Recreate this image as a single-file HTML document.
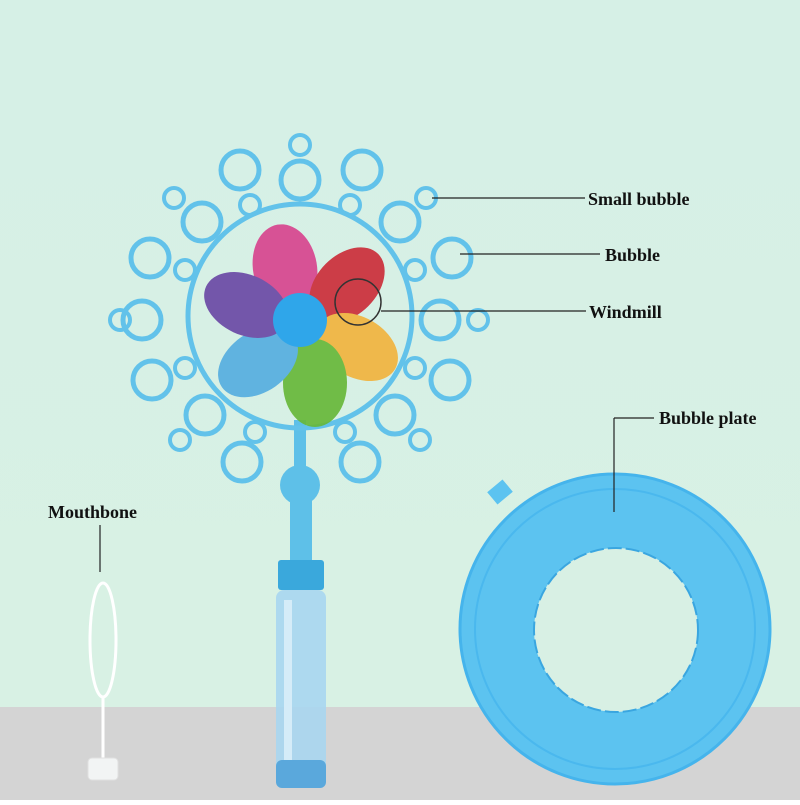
<!DOCTYPE html>
<html><head><style>html,body{margin:0;padding:0}body{width:800px;height:800px;overflow:hidden}
text{font-family:"Liberation Serif",serif;font-weight:bold;font-size:18px;fill:#111}</style></head><body>
<svg width="800" height="800" viewBox="0 0 800 800" xmlns="http://www.w3.org/2000/svg">
<defs><linearGradient id="bg" x1="0" y1="0" x2="0" y2="1"><stop offset="0" stop-color="#d6f0e6"/><stop offset="1" stop-color="#d8f1e4"/></linearGradient></defs>
<rect width="800" height="707" fill="url(#bg)"/>
<rect y="707" width="800" height="93" fill="#d4d4d4"/>
<!-- bubble plate -->
<rect x="490" y="484" width="20" height="16" fill="#5cc3f0" transform="rotate(-40 500 492)"/>
<circle cx="615" cy="629" r="155" fill="#5cc3f0" stroke="#45b4ec" stroke-width="3"/>
<circle cx="615" cy="629" r="140" fill="none" stroke="#4ab8ee" stroke-width="2"/>
<circle cx="616" cy="630" r="82" fill="#d8f0e4" stroke="#3aa6e0" stroke-width="2" stroke-dasharray="14 4"/>
<!-- mouthbone -->
<ellipse cx="103" cy="640" rx="13" ry="57" fill="none" stroke="#fff" stroke-width="3"/>
<line x1="103" y1="697" x2="103" y2="760" stroke="#fff" stroke-width="3"/>
<rect x="88" y="758" width="30" height="22" rx="4" fill="#f2f4f4" stroke="#e0e0e0"/>
<!-- wand handle -->
<rect x="294" y="420" width="12" height="60" fill="#5ec0e8"/>
<circle cx="300" cy="485" r="20" fill="#5ec0e8"/>
<rect x="290" y="500" width="22" height="65" fill="#5ec0e8"/>
<rect x="278" y="560" width="46" height="30" rx="3" fill="#3aa8dc"/>
<rect x="276" y="590" width="50" height="195" rx="8" fill="#a9d6ef" opacity="0.9"/>
<rect x="284" y="600" width="8" height="170" fill="#d5ecf8"/>
<rect x="276" y="760" width="50" height="28" rx="6" fill="#5aa8dc"/>
<!-- rings -->
<g fill="none" stroke="#62c2ea">
<circle cx="300" cy="316" r="112" stroke-width="5"/>
<g stroke-width="5">
<circle cx="300" cy="180" r="19"/><circle cx="362" cy="170" r="19"/><circle cx="240" cy="170" r="19"/>
<circle cx="202" cy="222" r="19"/><circle cx="400" cy="222" r="19"/><circle cx="150" cy="258" r="19"/>
<circle cx="452" cy="258" r="19"/><circle cx="142" cy="320" r="19"/><circle cx="440" cy="320" r="19"/>
<circle cx="152" cy="380" r="19"/><circle cx="450" cy="380" r="19"/><circle cx="205" cy="415" r="19"/>
<circle cx="395" cy="415" r="19"/><circle cx="242" cy="462" r="19"/><circle cx="360" cy="462" r="19"/>
</g>
<g stroke-width="4">
<circle cx="300" cy="145" r="10"/><circle cx="174" cy="198" r="10"/><circle cx="426" cy="198" r="10"/>
<circle cx="250" cy="205" r="10"/><circle cx="350" cy="205" r="10"/><circle cx="185" cy="270" r="10"/>
<circle cx="415" cy="270" r="10"/><circle cx="120" cy="320" r="10"/><circle cx="478" cy="320" r="10"/>
<circle cx="185" cy="368" r="10"/><circle cx="415" cy="368" r="10"/><circle cx="180" cy="440" r="10"/>
<circle cx="420" cy="440" r="10"/><circle cx="255" cy="432" r="10"/><circle cx="345" cy="432" r="10"/>
</g></g>
<!-- windmill -->
<g opacity="0.92">
<ellipse cx="285" cy="268" rx="32" ry="44" fill="#d8458f" transform="rotate(-10 285 268)"/>
<ellipse cx="347" cy="285" rx="30" ry="44" fill="#cc2e3a" transform="rotate(45 347 285)"/>
<ellipse cx="357" cy="347" rx="30" ry="44" fill="#f2b43e" transform="rotate(-60 357 347)"/>
<ellipse cx="315" cy="383" rx="32" ry="44" fill="#68b83a"/>
<ellipse cx="258" cy="362" rx="30" ry="44" fill="#56aee0" transform="rotate(55 258 362)"/>
<ellipse cx="246" cy="305" rx="30" ry="44" fill="#6b4aa6" transform="rotate(-65 246 305)"/>
</g>
<circle cx="300" cy="320" r="27" fill="#2fa6ea"/>
<circle cx="358" cy="302" r="23" fill="none" stroke="#333" stroke-width="1.5"/>
<!-- labels -->
<g stroke="#222" stroke-width="1.2">
<line x1="432" y1="198" x2="585" y2="198"/>
<line x1="460" y1="254" x2="600" y2="254"/>
<line x1="381" y1="311" x2="586" y2="311"/>
<line x1="614" y1="418" x2="654" y2="418"/><line x1="614" y1="418" x2="614" y2="512"/>
<line x1="100" y1="525" x2="100" y2="572"/>
</g>
<text x="588" y="205">Small bubble</text>
<text x="605" y="261">Bubble</text>
<text x="589" y="318">Windmill</text>
<text x="659" y="424">Bubble plate</text>
<text x="48" y="518">Mouthbone</text>
</svg>
</body></html>
